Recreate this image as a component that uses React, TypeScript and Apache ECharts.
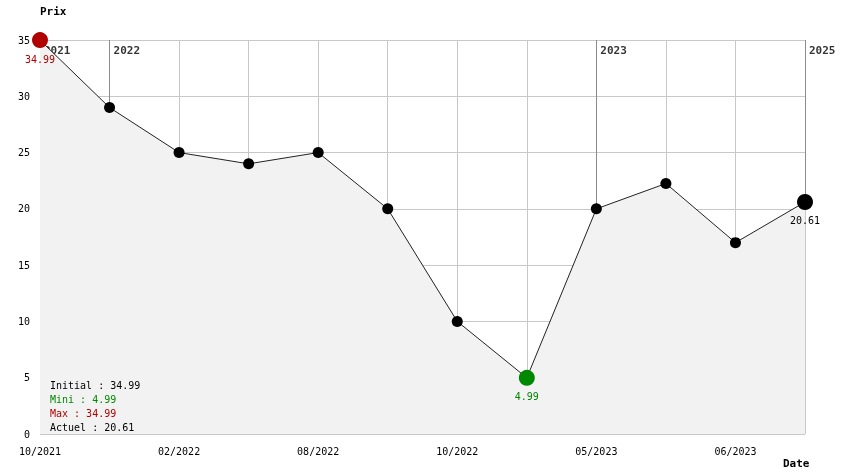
import React, { useEffect, useRef } from "react";
import * as echarts from "echarts";

const dateLabels = ["10/2021", "", "02/2022", "", "08/2022", "", "10/2022", "", "05/2023", "", "06/2023", ""];
const prices = [34.99, 29, 25, 24, 25, 20, 10, 4.99, 20, 22.25, 17, 20.61];
const yearMarkIndex = [0, 1, 8, 11];
const yearMarkLabels = ["2021", "2022", "2023", "2025"];
const yTicks = [0, 5, 10, 15, 20, 25, 30, 35];

const FONT = "DejaVu Sans Mono";
const RED = "#b00000";
const GREEN = "#008800";

export default function App() {
  const ref = useRef<HTMLDivElement>(null);
  useEffect(() => {
    if (!ref.current) return;
    const chart = echarts.init(ref.current, undefined, { renderer: "svg" });
    const yMax = yTicks[yTicks.length - 1];
    const minV = Math.min(...prices);
    const maxV = Math.max(...prices);
    const minIdx = prices.indexOf(minV);
    const last = prices.length - 1;

    const data = prices.map((v, i) => {
      const item: any = { value: v };
      if (i === 0) {
        item.symbolSize = 16;
        item.itemStyle = { color: RED };
        item.label = { show: true, position: "bottom", distance: 6, color: RED, formatter: v.toFixed(2) };
      } else if (i === minIdx) {
        item.symbolSize = 16;
        item.itemStyle = { color: GREEN };
        item.label = { show: true, position: "bottom", distance: 6, color: GREEN, formatter: v.toFixed(2) };
      } else if (i === last) {
        item.symbolSize = 16;
        item.itemStyle = { color: "#000" };
        item.label = { show: true, position: "bottom", distance: 6, color: "#000", formatter: v.toFixed(2) };
      }
      return item;
    });

    const legendLines = [
      { text: `Initial : ${prices[0].toFixed(2)}`, color: "#000" },
      { text: `Mini : ${minV.toFixed(2)}`, color: GREEN },
      { text: `Max : ${maxV.toFixed(2)}`, color: RED },
      { text: `Actuel : ${prices[last].toFixed(2)}`, color: "#000" },
    ];

    chart.setOption({
      animation: false,
      textStyle: { fontFamily: FONT },
      grid: { left: 40, right: 39, top: 40, bottom: 40 },
      xAxis: {
        type: "category",
        data: dateLabels,
        boundaryGap: false,
        axisLine: { show: false },
        axisTick: { show: false },
        axisLabel: { interval: 1, color: "#000", fontFamily: FONT, fontSize: 10, margin: 12 },
        splitLine: { show: true, interval: 0, lineStyle: { color: "#c8c8c8", width: 1 } },
      },
      yAxis: {
        type: "value",
        min: 0,
        max: yMax,
        interval: 5,
        axisLine: { show: false },
        axisTick: { show: false },
        axisLabel: { color: "#000", fontFamily: FONT, fontSize: 10, margin: 10 },
        splitLine: { show: true, lineStyle: { color: "#c8c8c8", width: 1 } },
      },
      series: [
        {
          type: "scatter",
          z: 1,
          silent: true,
          symbolSize: 0,
          data: yearMarkIndex.map((idx, k) => ({
            value: [idx, yMax],
            label: {
              show: true,
              formatter: yearMarkLabels[k],
              position: [4, 5],
              align: "left",
              verticalAlign: "top",
              color: "#000",
              fontWeight: "bold",
              fontSize: 11,
              fontFamily: FONT,
            },
          })),
        },
        {
          type: "line",
          z: 3,
          data,
          symbol: "circle",
          symbolSize: 11,
          showAllSymbol: true,
          itemStyle: { color: "#000" },
          lineStyle: { color: "#222", width: 1 },
          areaStyle: { color: "#f2f2f2", opacity: 1 },
          label: { fontFamily: FONT, fontSize: 10 },
          markLine: {
            silent: true,
            symbol: "none",
            z: 2,
            label: { show: false },
            lineStyle: { color: "#8c8c8c", width: 1, type: "solid" },
            data: yearMarkIndex.map((idx) => [
              { coord: [idx, yMax] },
              { coord: [idx, prices[idx]] },
            ]),
          },
        },
      ],
      graphic: [
        {
          type: "text",
          left: 40,
          top: 6,
          style: { text: "Prix", fontFamily: FONT, fontWeight: "bold", fontSize: 11, fill: "#000" },
        },
        {
          type: "text",
          left: 783,
          top: 458,
          style: { text: "Date", fontFamily: FONT, fontWeight: "bold", fontSize: 11, fill: "#000" },
        },
        ...legendLines.map((l, i) => ({
          type: "text",
          left: 50,
          top: 380 + i * 14,
          z: 10,
          style: { text: l.text, fontFamily: FONT, fontSize: 10, fill: l.color },
        })),
      ],
    });
    return () => chart.dispose();
  }, []);
  return <div ref={ref} style={{ position: "fixed", left: 0, top: 0, width: 844, height: 474 }} />;
}
